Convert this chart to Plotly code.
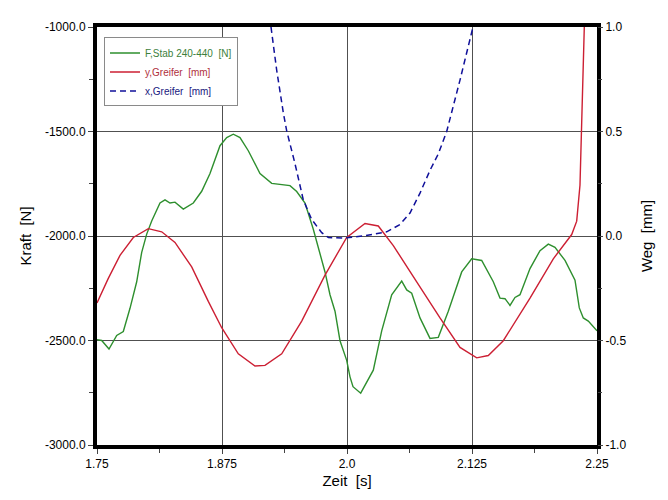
import plotly.graph_objects as go

# Green: F,Stab 240-440 [N] (left axis)
t_force = [1.7500, 1.7547, 1.7620, 1.7697, 1.7763, 1.7830, 1.7897, 1.7947, 1.7997, 1.8047,
           1.8130, 1.8180, 1.8230, 1.8280, 1.8363, 1.8463, 1.8547, 1.8630, 1.8730, 1.8797,
           1.8863, 1.8930, 1.9013, 1.9130, 1.9247, 1.9430, 1.9497, 1.9580, 1.9663, 1.9780,
           1.9830, 1.9880, 1.9930, 1.9997, 2.0030, 2.0060, 2.0137, 2.0263, 2.0347, 2.0447,
           2.0547, 2.0597, 2.0647, 2.0730, 2.0830, 2.0913, 2.1013, 2.1147, 2.1247, 2.1347,
           2.1463, 2.1530, 2.1580, 2.1630, 2.1680, 2.1730, 2.1830, 2.1930, 2.2013, 2.2080,
           2.2180, 2.2280, 2.2323, 2.2363, 2.2413, 2.2500]
force = [-2496, -2500, -2541, -2476, -2457, -2346, -2219, -2078, -1991, -1928,
         -1842, -1827, -1842, -1838, -1871, -1842, -1786, -1701, -1568, -1529,
         -1513, -1529, -1592, -1701, -1748, -1759, -1787, -1842, -1968, -2172,
         -2281, -2360, -2501, -2595, -2674, -2721, -2752, -2642, -2454, -2281,
         -2216, -2258, -2274, -2392, -2490, -2485, -2360, -2172, -2109, -2117,
         -2219, -2297, -2300, -2332, -2294, -2281, -2156, -2070, -2039, -2054,
         -2117, -2211, -2344, -2392, -2407, -2454]

# Red: y,Greifer [mm] (right axis)
t_y = [1.7500, 1.7613, 1.7730, 1.7863, 1.8013, 1.8147, 1.8280, 1.8447, 1.8613, 1.8747,
       1.8913, 1.9080, 1.9180, 1.9347, 1.9547, 1.9780, 1.9997, 2.0180, 2.0313, 2.0463,
       2.0697, 2.0930, 2.1130, 2.1297, 2.1413, 2.1563, 2.1830, 2.2063, 2.2247, 2.2297,
       2.2330, 2.2347, 2.2373]
y_greifer = [-0.320, -0.203, -0.093, -0.007, 0.035, 0.020, -0.031, -0.148, -0.313, -0.439,
             -0.564, -0.622, -0.619, -0.564, -0.407, -0.187, -0.007, 0.060, 0.048, -0.046,
             -0.219, -0.392, -0.533, -0.583, -0.572, -0.501, -0.297, -0.109, 0.007, 0.071,
             0.244, 0.500, 1.000]

# Blue dashed: x,Greifer [mm] (right axis)
t_x = [1.9240, 1.9297, 1.9363, 1.9397, 1.9480, 1.9563, 1.9647, 1.9747, 1.9813, 1.9960,
       2.0160, 2.0397, 2.0530, 2.0630, 2.0730, 2.0830, 2.0913, 2.0997, 2.1130, 2.1260]
x_greifer = [1.000, 0.793, 0.590, 0.503, 0.346, 0.173, 0.079, 0.016, -0.007, -0.010,
             0.000, 0.020, 0.055, 0.110, 0.205, 0.314, 0.393, 0.500, 0.746, 1.000]

x_tickvals = [1.75, 1.875, 2.0, 2.125, 2.25]
x_ticktext = ["1.75", "1.875", "2.0", "2.125", "2.25"]
y_tickvals = [-3000, -2500, -2000, -1500, -1000]
y_ticktext = ["-3000.0", "-2500.0", "-2000.0", "-1500.0", "-1000.0"]
y2_tickvals = [-1.0, -0.5, 0.0, 0.5, 1.0]
y2_ticktext = ["-1.0", "-0.5", "0.0", "0.5", "1.0"]

GREEN = "#2e8f2e"
RED = "#cc1f33"
BLUE = "#10109a"
FONT = "Liberation Sans, Arial, sans-serif"

fig = go.Figure()
fig.add_trace(go.Scatter(
    x=t_force, y=force, mode="lines", yaxis="y",
    name='<span style="color:#3c7f3c">F,Stab 240-440  [N]</span>',
    line=dict(color=GREEN, width=1.4)))
fig.add_trace(go.Scatter(
    x=t_y, y=y_greifer, mode="lines", yaxis="y2",
    name='<span style="color:#b0303c">y,Greifer  [mm]</span>',
    line=dict(color=RED, width=1.4)))
fig.add_trace(go.Scatter(
    x=t_x, y=x_greifer, mode="lines", yaxis="y2",
    name='<span style="color:#202080">x,Greifer  [mm]</span>',
    line=dict(color=BLUE, width=1.5, dash="6px,4px")))

fig.update_layout(
    width=660, height=492,
    margin=dict(l=89, r=71, t=13, b=54),
    paper_bgcolor="white", plot_bgcolor="white",
    font=dict(family=FONT, size=12, color="black"),
    showlegend=True,
    legend=dict(x=0.014, y=0.975, xanchor="left", yanchor="top",
                bgcolor="white", bordercolor="#8a8a8a", borderwidth=1,
                font=dict(family=FONT, size=10), tracegroupgap=0,
                itemwidth=30),
    xaxis=dict(range=[1.75, 2.25], tickvals=x_tickvals, ticktext=x_ticktext,
               showgrid=True, gridcolor="#505050", gridwidth=1,
               showline=True, linecolor="black", linewidth=4, mirror=True,
               ticks="outside", ticklen=5, tickcolor="#444444",
               minor=dict(dtick=0.0625, tick0=1.75, ticks="outside", ticklen=4,
                          tickcolor="#444444", showgrid=False),
               zeroline=False,
               title=dict(text="Zeit  [s]", font=dict(size=15), standoff=6),
               tickfont=dict(size=12)),
    yaxis=dict(range=[-3000, -1000], tickvals=y_tickvals, ticktext=y_ticktext,
               showgrid=True, gridcolor="#505050", gridwidth=1,
               showline=True, linecolor="black", linewidth=4, mirror=True,
               ticks="outside", ticklen=5, tickcolor="#444444",
               minor=dict(dtick=250, tick0=-3000, ticks="outside", ticklen=4,
                          tickcolor="#444444", showgrid=False),
               zeroline=False,
               title=dict(text="Kraft  [N]", font=dict(size=15), standoff=11),
               tickfont=dict(size=12)),
    yaxis2=dict(range=[-1, 1], tickvals=y2_tickvals, ticktext=y2_ticktext,
                overlaying="y", side="right", showgrid=False, zeroline=False,
                showline=False,
                ticks="outside", ticklen=5, tickcolor="#444444",
                minor=dict(dtick=0.25, tick0=-1, ticks="outside", ticklen=4,
                           tickcolor="#444444", showgrid=False),
                title=dict(text="Weg  [mm]", font=dict(size=15), standoff=16),
                tickfont=dict(size=12)),
)

fig.write_html("out.html")
